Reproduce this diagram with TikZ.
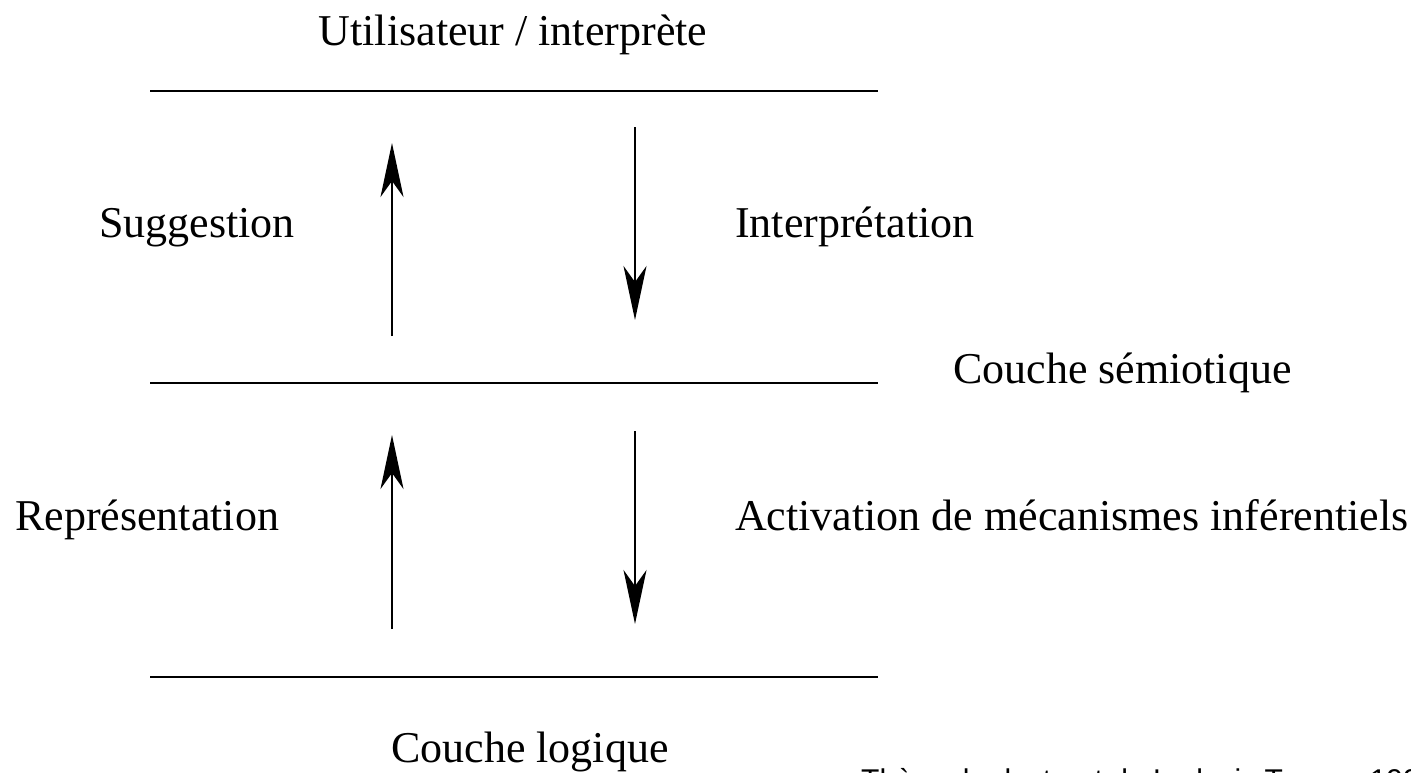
\documentclass[tikz,border=0pt]{standalone}
\usepackage{fontspec}
\setmainfont{Liberation Serif}
\newfontfamily\footfont{Liberation Sans}
\usetikzlibrary{arrows.meta}
\begin{document}
\begin{tikzpicture}[x=1pt,y=-1pt,
  lbl/.style={inner sep=0pt,font=\fontsize{44}{50}\selectfont},
  layer/.style={line width=2.4pt},
  flow/.style={line width=2.4pt,-{Stealth[length=54pt,width=23pt,inset=16pt]}}]
\useasboundingbox (0,0) rectangle (1411,772);
\begin{scope}
\clip (0,0) rectangle (1411,772);
% layers
\coordinate (l1a) at (150,91);  \coordinate (l1b) at (878,91);
\coordinate (l2a) at (150,383); \coordinate (l2b) at (878,383);
\coordinate (l3a) at (150,677); \coordinate (l3b) at (878,677);
\draw[layer] (l1a) -- (l1b);
\draw[layer] (l2a) -- (l2b);
\draw[layer] (l3a) -- (l3b);
% arrows
\coordinate (u1s) at (392,336); \coordinate (u1e) at (392,143);
\coordinate (d1s) at (635,127); \coordinate (d1e) at (635,320);
\coordinate (u2s) at (392,629); \coordinate (u2e) at (392,435);
\coordinate (d2s) at (635,431); \coordinate (d2e) at (635,624);
\draw[flow] (u1s) -- (u1e);
\draw[flow] (d1s) -- (d1e);
\draw[flow] (u2s) -- (u2e);
\draw[flow] (d2s) -- (d2e);
% labels
\node[lbl,anchor=base] (user) at (513,45) {Utilisateur / interprète};
\node[lbl,anchor=base] (sugg) at (197,237) {Suggestion};
\node[lbl,anchor=base west] (interp) at (735,237) {Interprétation};
\node[lbl,anchor=base west] (semio) at (953,383) {Couche sémiotique};
\node[lbl,anchor=base west] (repr) at (15,530) {Représentation};
\node[lbl,anchor=base west] (activ) at (735,530) {Activation de mécanismes inférentiels};
\node[lbl,anchor=base] (logic) at (530,762) {Couche logique};
\node[inner sep=0pt,anchor=base west,font=\footfont\fontsize{30}{34}\selectfont] (foot) at (861,790) {Thèse de doctorat de Ludovic Tanguy 1997};
\end{scope}
\end{tikzpicture}
\end{document}
